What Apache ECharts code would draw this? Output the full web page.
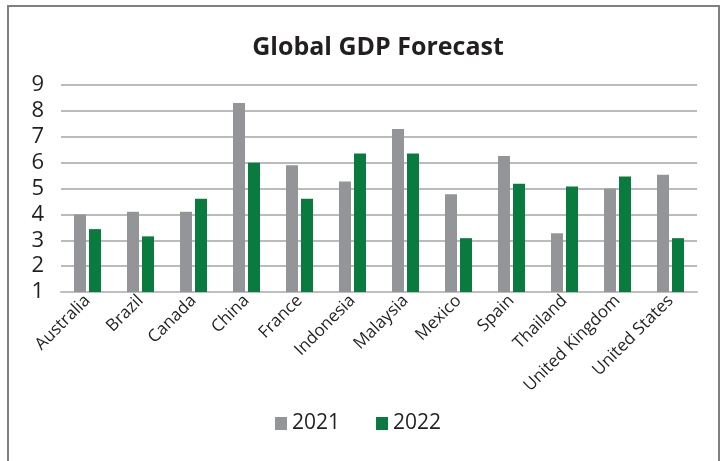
<!DOCTYPE html>
<html>
<head>
<meta charset="utf-8">
<script src="https://cdn.jsdelivr.net/npm/echarts@6/dist/echarts.min.js"></script>
<style>
html,body{margin:0;padding:0;background:#fff;}
#chart{width:721px;height:461px;}
</style>
</head>
<body>
<div id="chart"></div>
<script>
const categories = ['Australia','Brazil','Canada','China','France','Indonesia','Malaysia','Mexico','Spain','Thailand','United Kingdom','United States'];
const values2021 = [4.0, 4.1, 4.1, 8.3, 5.9, 5.27, 7.3, 4.78, 6.26, 3.27, 5.0, 5.53];
const values2022 = [3.43, 3.15, 4.6, 6.0, 4.6, 6.35, 6.35, 3.08, 5.18, 5.08, 5.46, 3.08];
const seriesNames = ['2021', '2022'];
const yTicks = [1, 9, 1]; // min, max, interval

const chart = echarts.init(document.getElementById('chart'), null, {renderer: 'canvas'});
const font = "'Open Sans', 'Noto Sans', sans-serif";
chart.setOption({
  animation: false,
  backgroundColor: '#fff',
  title: {
    text: 'Global GDP Forecast',
    left: 373, top: 30, textAlign: 'center',
    textStyle: {fontFamily: font, fontWeight: 'bold', fontSize: 25, color: '#231f20'}
  },
  graphic: [{
    type: 'rect', shape: {x: 8, y: 6, width: 711, height: 460},
    style: {fill: 'none', stroke: '#808080', lineWidth: 2}, silent: true
  }],
  legend: {
    data: seriesNames, left: 270, top: 408,
    itemWidth: 12, itemHeight: 13, itemGap: 36, icon: 'rect',
    textStyle: {fontFamily: font, fontSize: 21, color: '#231f20'}
  },
  grid: {left: 61, right: 24, top: 85, bottom: 169},
  xAxis: {
    type: 'category', data: categories,
    axisLine: {show: true, lineStyle: {color: '#bcbec0', width: 2}},
    axisTick: {show: false},
    axisLabel: {rotate: 45, interval: 0, margin: 6, fontFamily: font, fontSize: 17, color: '#231f20'}
  },
  yAxis: {
    type: 'value', min: yTicks[0], max: yTicks[1], interval: yTicks[2],
    axisLine: {show: false}, axisTick: {show: false},
    splitLine: {lineStyle: {color: '#b9bbbe', width: 2}},
    axisLabel: {margin: 17, fontFamily: font, fontSize: 22, color: '#231f20'}
  },
  series: [
    {name: seriesNames[0], type: 'bar', data: values2021, barWidth: 12, barGap: '25%',
     itemStyle: {color: '#939598'}},
    {name: seriesNames[1], type: 'bar', data: values2022, barWidth: 12, barGap: '25%',
     itemStyle: {color: '#0a7b3e'}}
  ]
});
</script>
</body>
</html>
